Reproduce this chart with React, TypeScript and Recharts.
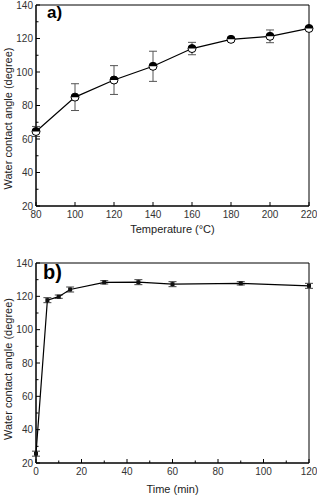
import { LineChart, Line, XAxis, YAxis, ErrorBar, ReferenceArea, Label } from 'recharts';

// panel a) – annealing temperature
const temps = [80, 100, 120, 140, 160, 180, 200, 220];
const angleA = [64.5, 85, 95.2, 103.4, 114, 119.5, 121.3, 126];
const errA = [3, 8, 8.6, 9, 3.7, 1.2, 3.8, 1];

// panel b) – treatment time
const times = [0, 5, 10, 15, 30, 45, 60, 90, 120];
const angleB = [25.6, 117.7, 119.8, 124.1, 128.4, 128.5, 127.3, 127.8, 126.3];
const errB = [1.5, 1.5, 1, 1.5, 1, 1.5, 1.5, 1, 1.5];

const yTicks = [20, 30, 40, 50, 60, 70, 80, 90, 100, 110, 120, 130, 140];
const xTicksA = [80, 100, 120, 140, 160, 180, 200, 220];
const xTicksB = [0, 10, 20, 30, 40, 50, 60, 70, 80, 90, 100, 110, 120];

const dataA = temps.map((t, i) => ({ x: t, y: angleA[i], err: errA[i] }));
const dataB = times.map((t, i) => ({ x: t, y: angleB[i], err: errB[i] }));

const FONT = 'Arial, "Liberation Sans", sans-serif';
const TICK_COLOR = '#333';
const Y_GAP = 3;
const X_GAP = 4;

function makeTick(axis: 'x' | 'y', labelEvery: number) {
  return (props: any) => {
    const { x, y, payload } = props;
    const v = payload.value;
    const major = v % labelEvery === 0;
    const len = major ? 4 : 2.5;
    if (axis === 'y') {
      const ax = x + Y_GAP;
      return (
        <g>
          <line x1={ax} x2={ax + len} y1={y} y2={y} stroke="#000" strokeWidth={1} />
          {major && (
            <text x={x} y={y} dy={3.5} textAnchor="end" fontSize={10} fontFamily={FONT} fill={TICK_COLOR}>
              {v}
            </text>
          )}
        </g>
      );
    }
    const ay = y - X_GAP;
    return (
      <g>
        <line x1={x} x2={x} y1={ay} y2={ay - len} stroke="#000" strokeWidth={1} />
        {major && (
          <text x={x} y={y} dy={8} textAnchor="middle" fontSize={10} fontFamily={FONT} fill={TICK_COLOR}>
            {v}
          </text>
        )}
      </g>
    );
  };
}

function HalfDot(props: any) {
  const { cx, cy } = props;
  if (cx == null || cy == null) return <g />;
  const r = 4;
  return (
    <g>
      <circle cx={cx} cy={cy} r={r} fill="#fff" stroke="#000" strokeWidth={1} />
      <path d={`M${cx - r},${cy} A${r},${r} 0 0 1 ${cx + r},${cy} Z`} fill="#000" />
    </g>
  );
}

function SquareDot(props: any) {
  const { cx, cy } = props;
  if (cx == null || cy == null) return <g />;
  return <rect x={cx - 2} y={cy - 2} width={4} height={4} fill="#111" />;
}

function yTitle(dy: number) {
  return (props: any) => {
    const vb = props.viewBox;
    const cx = vb.x + 8;
    const cy = vb.y + vb.height / 2 + dy;
    return (
      <text
        x={cx}
        y={cy}
        transform={`rotate(-90 ${cx} ${cy})`}
        textAnchor="middle"
        dominantBaseline="central"
        fontSize={11}
        fontFamily={FONT}
        fill="#222"
      >
        Water contact angle (degree)
      </text>
    );
  };
}

function xTitle(text: string, dy: number) {
  return (props: any) => {
    const vb = props.viewBox;
    return (
      <text x={vb.x + vb.width / 2} y={vb.y + dy} textAnchor="middle" fontSize={11} fontFamily={FONT} fill="#222">
        {text}
      </text>
    );
  };
}

export default function App() {
  return (
    <div style={{ position: 'absolute', left: 0, top: 0, width: 317, height: 496, background: '#fff' }}>
      <div style={{ position: 'absolute', left: 0, top: 0 }}>
        <LineChart width={317} height={248} data={dataA} margin={{ top: 5, right: 8, left: 0, bottom: 0 }}>
          <XAxis
            dataKey="x"
            type="number"
            domain={[80, 220]}
            ticks={xTicksA}
            interval={0}
            tickLine={false}
            tickSize={0}
            tickMargin={X_GAP}
            tick={makeTick('x', 20)}
            axisLine={{ stroke: '#000', strokeWidth: 1 }}
            height={42}
          >
            <Label content={xTitle('Temperature (°C)', 27)} />
          </XAxis>
          <YAxis
            type="number"
            domain={[20, 140]}
            ticks={yTicks}
            interval={0}
            tickLine={false}
            tickSize={0}
            tickMargin={Y_GAP}
            tick={makeTick('y', 20)}
            axisLine={{ stroke: '#000', strokeWidth: 1 }}
            width={36}
          >
            <Label content={yTitle(13)} />
          </YAxis>
          <ReferenceArea x1={80} x2={220} y1={20} y2={140} fill="none" stroke="#000" strokeWidth={1} />
          <Line
            dataKey="y"
            stroke="#000"
            strokeWidth={1.2}
            dot={<HalfDot />}
            activeDot={false}
            isAnimationActive={false}
          >
            <ErrorBar dataKey="err" width={4} stroke="#555" strokeWidth={1} direction="y" isAnimationActive={false} />
          </Line>
        </LineChart>
        <div
          style={{
            position: 'absolute',
            left: 47,
            top: 3,
            fontFamily: FONT,
            fontWeight: 'bold',
            fontSize: 17,
            color: '#000',
          }}
        >
          a)
        </div>
      </div>

      <div style={{ position: 'absolute', left: 0, top: 250 }}>
        <LineChart width={317} height={246} data={dataB} margin={{ top: 13, right: 8, left: 0, bottom: 0 }}>
          <XAxis
            dataKey="x"
            type="number"
            domain={[0, 120]}
            ticks={xTicksB}
            interval={0}
            tickLine={false}
            tickSize={0}
            tickMargin={X_GAP}
            tick={makeTick('x', 20)}
            axisLine={{ stroke: '#000', strokeWidth: 1 }}
            height={33}
          >
            <Label content={xTitle('Time (min)', 30)} />
          </XAxis>
          <YAxis
            type="number"
            domain={[20, 140]}
            ticks={yTicks}
            interval={0}
            tickLine={false}
            tickSize={0}
            tickMargin={Y_GAP}
            tick={makeTick('y', 20)}
            axisLine={{ stroke: '#000', strokeWidth: 1 }}
            width={36}
          >
            <Label content={yTitle(6)} />
          </YAxis>
          <ReferenceArea x1={0} x2={120} y1={20} y2={140} fill="none" stroke="#000" strokeWidth={1} />
          <Line
            dataKey="y"
            stroke="#000"
            strokeWidth={1.2}
            dot={<SquareDot />}
            activeDot={false}
            isAnimationActive={false}
          >
            <ErrorBar dataKey="err" width={4} stroke="#444" strokeWidth={1} direction="y" isAnimationActive={false} />
          </Line>
        </LineChart>
        <div
          style={{
            position: 'absolute',
            left: 43,
            top: 11,
            fontFamily: FONT,
            fontWeight: 'bold',
            fontSize: 20,
            color: '#000',
          }}
        >
          b)
        </div>
      </div>
    </div>
  );
}
